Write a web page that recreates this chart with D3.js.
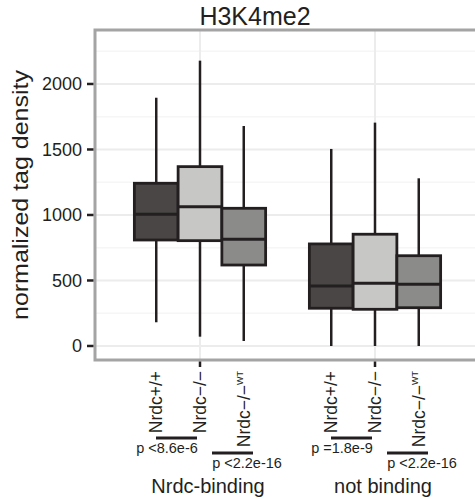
<!DOCTYPE html>
<html>
<head>
<meta charset="utf-8">
<script src="https://cdn.jsdelivr.net/npm/d3@7"></script>
<style>
  body { margin: 0; background: #fff; }
  text { font-family: "Liberation Sans", Arial, sans-serif; fill: #231f20; }
</style>
</head>
<body>
<div id="chart"></div>
<script>
// Chart data
const groups = ['Nrdc-binding', 'not binding'];
const genotypes = ['Nrdc+/+', 'Nrdc-/-', 'Nrdc-/-WT'];
const lowerWhisker = [[181, 71, 38], [0, 0, 0]];
const q1 = [[809, 804, 618], [288, 280, 292]];
const median = [[1005, 1063, 814], [458, 479, 471]];
const q3 = [[1242, 1369, 1051], [779, 853, 689]];
const upperWhisker = [[1895, 2178, 1679], [1504, 1705, 1280]];
const yTicks = [0, 500, 1000, 1500, 2000];
const yMinor = [250, 750, 1250, 1750, 2250];
const pValues = [['p <8.6e-6', 'p <2.2e-16'], ['p =1.8e-9', 'p <2.2e-16']];

const fills = ['#494645', '#c7c8c6', '#8b8c8a'];
const ink = '#231f20';

const width = 475, height = 499;
const panel = { left: 95, right: 480, top: 30, bottom: 360 };

const svg = d3.select('#chart')
    .append('svg')
    .attr('width', width)
    .attr('height', height);

// Scales: groups on a continuous axis so each box can be dodged
const x = d3.scaleLinear()
    .domain([0.4, 2.6])
    .range([panel.left, panel.right]);
const unit = x(1) - x(0);
const dodge = d3.scaleBand()
    .domain(genotypes)
    .range([-0.375, 0.375]);
const y = d3.scaleLinear()
    .domain([-107, 2412])
    .range([panel.bottom, panel.top]);

// Panel background + grid
svg.append('rect')
    .attr('x', panel.left).attr('y', panel.top)
    .attr('width', panel.right - panel.left)
    .attr('height', panel.bottom - panel.top)
    .attr('fill', '#fff');

svg.selectAll('.minor')
    .data(yMinor)
    .enter().append('line')
    .attr('x1', panel.left).attr('x2', panel.right)
    .attr('y1', d => y(d)).attr('y2', d => y(d))
    .attr('stroke', '#f6f6f6').attr('stroke-width', 1.5);

svg.selectAll('.major')
    .data(yTicks)
    .enter().append('line')
    .attr('x1', panel.left).attr('x2', panel.right)
    .attr('y1', d => y(d)).attr('y2', d => y(d))
    .attr('stroke', '#ececec').attr('stroke-width', 2);

svg.selectAll('.vgrid')
    .data(groups)
    .enter().append('line')
    .attr('x1', (d, i) => x(i + 1)).attr('x2', (d, i) => x(i + 1))
    .attr('y1', panel.top).attr('y2', panel.bottom)
    .attr('stroke', '#ececec').attr('stroke-width', 2);

// Boxes
const boxes = [];
groups.forEach((g, gi) => {
    genotypes.forEach((t, ti) => {
        boxes.push({
            gi: gi, ti: ti,
            lo: lowerWhisker[gi][ti], q1: q1[gi][ti], med: median[gi][ti],
            q3: q3[gi][ti], hi: upperWhisker[gi][ti]
        });
    });
});

const boxLeft = d => x(d.gi + 1) + dodge(genotypes[d.ti]) * unit;
const boxW = dodge.bandwidth() * unit;
const boxMid = d => boxLeft(d) + boxW / 2;

const box = svg.selectAll('.box')
    .data(boxes)
    .enter().append('g');

box.append('line')
    .attr('x1', boxMid).attr('x2', boxMid)
    .attr('y1', d => y(d.hi)).attr('y2', d => y(d.q3))
    .attr('stroke', ink).attr('stroke-width', 2.5);

box.append('line')
    .attr('x1', boxMid).attr('x2', boxMid)
    .attr('y1', d => y(d.q1)).attr('y2', d => y(d.lo))
    .attr('stroke', ink).attr('stroke-width', 2.5);

box.append('rect')
    .attr('x', boxLeft)
    .attr('y', d => y(d.q3))
    .attr('width', boxW)
    .attr('height', d => y(d.q1) - y(d.q3))
    .attr('fill', d => fills[d.ti])
    .attr('stroke', ink).attr('stroke-width', 2.8);

box.append('line')
    .attr('x1', boxLeft).attr('x2', d => boxLeft(d) + boxW)
    .attr('y1', d => y(d.med)).attr('y2', d => y(d.med))
    .attr('stroke', ink).attr('stroke-width', 3);

// Panel border
svg.append('rect')
    .attr('x', panel.left).attr('y', panel.top)
    .attr('width', panel.right - panel.left)
    .attr('height', panel.bottom - panel.top)
    .attr('fill', 'none')
    .attr('stroke', '#a4a4a4').attr('stroke-width', 3);

// Y axis ticks and labels
svg.selectAll('.ytick')
    .data(yTicks)
    .enter().append('line')
    .attr('x1', panel.left - 8).attr('x2', panel.left - 1.5)
    .attr('y1', d => y(d)).attr('y2', d => y(d))
    .attr('stroke', ink).attr('stroke-width', 2.5);

svg.selectAll('.ylab')
    .data(yTicks)
    .enter().append('text')
    .attr('x', panel.left - 13)
    .attr('y', d => y(d))
    .attr('dy', '0.36em')
    .attr('text-anchor', 'end')
    .style('font-size', '18px')
    .text(d => d);

svg.append('text')
    .attr('transform', `translate(28, 195) rotate(-90)`)
    .attr('text-anchor', 'middle')
    .attr('textLength', 250)
    .attr('lengthAdjust', 'spacingAndGlyphs')
    .style('font-size', '22px')
    .text('normalized tag density');

// X axis ticks at group positions
svg.selectAll('.xtick')
    .data(groups)
    .enter().append('line')
    .attr('x1', (d, i) => x(i + 1)).attr('x2', (d, i) => x(i + 1))
    .attr('y1', panel.bottom + 1.5).attr('y2', panel.bottom + 7)
    .attr('stroke', ink).attr('stroke-width', 2.5);

// Title
svg.append('text')
    .attr('x', 255).attr('y', 25)
    .attr('text-anchor', 'middle')
    .style('font-size', '25px')
    .text('H3K4me2');

// Rotated genotype labels under each box
boxes.forEach(d => {
    const lx = boxMid(d) + 6, ly = 371;
    const t = svg.append('text')
        .attr('x', lx).attr('y', ly)
        .attr('transform', `rotate(-90, ${lx}, ${ly})`)
        .attr('text-anchor', 'end')
        .style('font-size', '17.5px');
    const name = genotypes[d.ti];
    if (name.endsWith('WT')) {
        t.append('tspan').text('Nrdc\u2212/\u2212');
        t.append('tspan').attr('dy', -7).style('font-size', '9px').text('WT');
    } else {
        t.text(name.replace(/-/g, '\u2212'));
    }
});

// Significance bars and p-values
groups.forEach((g, gi) => {
    const cx = x(gi + 1);
    const bars = [
        { x1: cx - 44, x2: cx - 3, y: 438, label: pValues[gi][0], lx: cx - 33 },
        { x1: cx + 12, x2: cx + 53, y: 453, label: pValues[gi][1], lx: cx + 47 }
    ];
    bars.forEach(b => {
        svg.append('line')
            .attr('x1', b.x1).attr('x2', b.x2)
            .attr('y1', b.y).attr('y2', b.y)
            .attr('stroke', ink).attr('stroke-width', 3);
        svg.append('text')
            .attr('x', b.lx).attr('y', b.y + 15)
            .attr('text-anchor', 'middle')
            .style('font-size', '14.5px')
            .text(b.label);
    });
    svg.append('text')
        .attr('x', cx + 8).attr('y', 493)
        .attr('text-anchor', 'middle')
        .style('font-size', '20px')
        .text(g);
});
</script>
</body>
</html>
